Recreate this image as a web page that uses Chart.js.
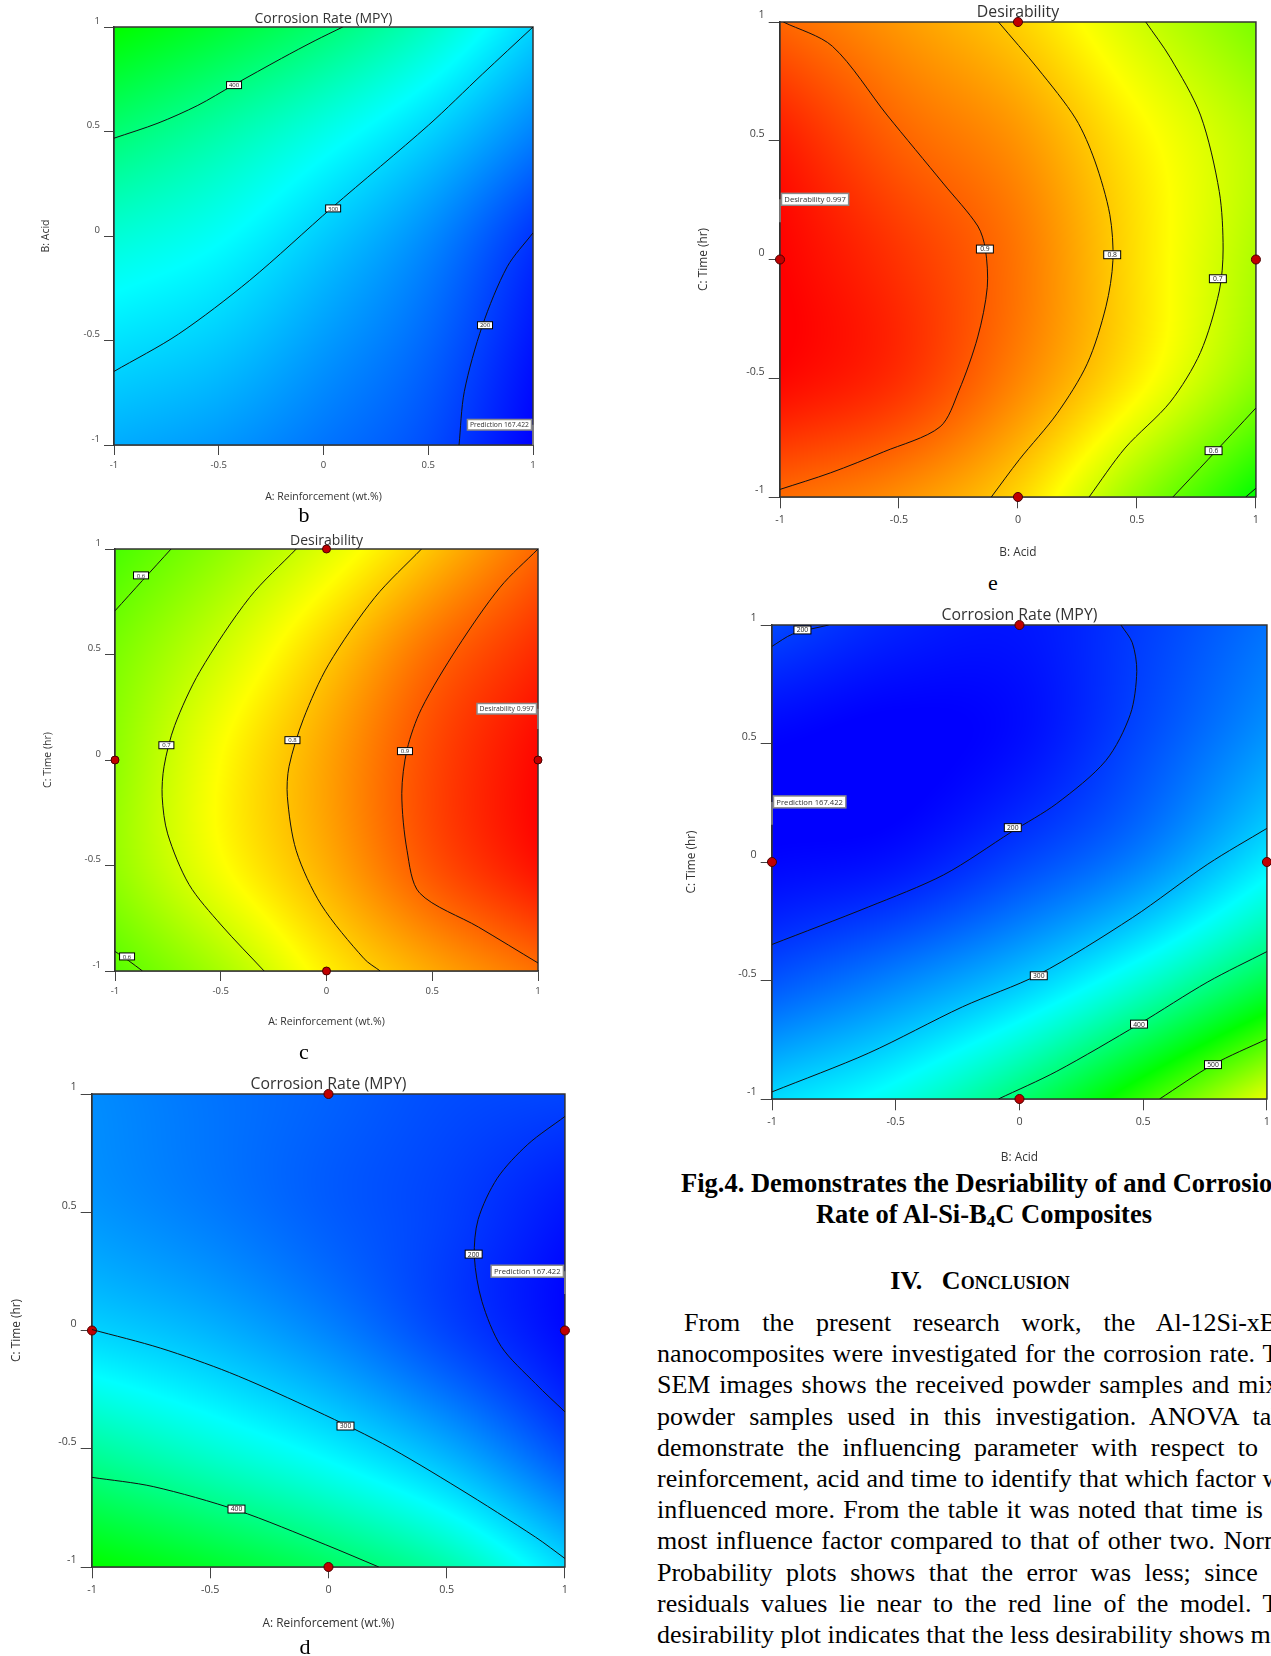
<!DOCTYPE html>
<html>
<head>
<meta charset="utf-8">
<script src="https://cdn.jsdelivr.net/npm/chart.js@4.4.1/dist/chart.umd.min.js"></script>
<style>
  html, body { margin: 0; padding: 0; background: #fff; }
  body { position: relative; width: 1271px; height: 1656px; overflow: hidden; }
  canvas.plot { position: absolute; }
  .serif { font-family: "Liberation Serif", "Times New Roman", serif; color: #000; }
  .fig { position: absolute; font-size: 22px; transform: translate(-50%, -50%); }
  .block { position: absolute; left: 657px; width: 646px; font-size: 26px; }
  .caption { left: 661px; top: 1168px; line-height: 31px; text-align: center; font-weight: bold; font-size: 26.5px; }
  .heading { top: 1265px; line-height: 31px; text-align: center; font-weight: bold; font-variant: small-caps; }
  .para { top: 1307px; }
  .pl { height: 31.2px; line-height: 31.2px; white-space: nowrap; text-align: justify; text-align-last: justify; }
  .pl.first { text-indent: 27px; }
  sub { font-size: 17px; line-height: 0; vertical-align: -4px; }
</style>
</head>
<body>
<canvas id="chartB" class="plot"></canvas>
<canvas id="chartC" class="plot"></canvas>
<canvas id="chartD" class="plot"></canvas>
<canvas id="chartE" class="plot"></canvas>
<canvas id="chartF" class="plot"></canvas>

<div class="serif fig" style="left:304px;top:515px">b</div>
<div class="serif fig" style="left:304px;top:1052px">c</div>
<div class="serif fig" style="left:305px;top:1647px">d</div>
<div class="serif fig" style="left:993px;top:583px">e</div>

<div class="serif block caption">Fig.4. Demonstrates the Desriability of and Corrosion<br>Rate of Al-Si-B<sub>4</sub>C Composites</div>
<div class="serif block heading">IV.&nbsp;&nbsp;&nbsp;Conclusion</div>
<div class="serif block para">
  <div class="pl first">From the present research work, the Al-12Si-xB<sub>4</sub>C</div>
  <div class="pl">nanocomposites were investigated for the corrosion rate. The</div>
  <div class="pl">SEM images shows the received powder samples and mixed</div>
  <div class="pl">powder samples used in this investigation. ANOVA table</div>
  <div class="pl">demonstrate the influencing parameter with respect to the</div>
  <div class="pl">reinforcement, acid and time to identify that which factor was</div>
  <div class="pl">influenced more. From the table it was noted that time is the</div>
  <div class="pl">most influence factor compared to that of other two. Normal</div>
  <div class="pl">Probability plots shows that the error was less; since the</div>
  <div class="pl">residuals values lie near to the red line of the model. The</div>
  <div class="pl">desirability plot indicates that the less desirability shows more</div>
</div>

<script>
// --- shared axis values ---
const tickValues = [-1, -0.5, 0, 0.5, 1];
const gridNodes = [-1, -0.5, 0, 0.5, 1];

// --- colour scales (blue > cyan > green > yellow > red) ---
const rateStops = [167, 327, 467, 607, 747];
const desirStops = [0, 0.25, 0.5, 0.75, 1];
const stopColors = [[0, 0, 255], [0, 255, 255], [0, 255, 0], [255, 255, 0], [255, 0, 0]];

// --- b: Corrosion Rate, A (x) vs B (y); rows B = -1..1, cols A = -1..1 ---
const bField = [
  [275, 262, 240, 215, 167],
  [310, 295, 265, 232, 180],
  [350, 330, 295, 255, 200],
  [405, 375, 340, 300, 250],
  [470, 440, 405, 360, 300]
];
const b400 = [[-1, 0.468], [-0.79, 0.54], [-0.6, 0.625], [-0.43, 0.722], [-0.2, 0.85], [-0.04, 0.935], [0.092, 1]];
const b300 = [[-1, -0.648], [-0.693, -0.47], [-0.352, -0.212], [0.041, 0.136], [0.502, 0.531], [0.758, 0.774], [1, 1]];
const b200 = [[0.647, -1], [0.672, -0.745], [0.758, -0.43], [0.877, -0.147], [1, 0.015]];
const bLabels = [['400', -0.427, 0.722], ['300', 0.046, 0.132], ['200', 0.771, -0.427]];
const bPoints = [];
const bFlag = ['Prediction 167.422', 1, -1];

// --- c: Desirability, A (x) vs C (y); rows C = -1..1 ---
const cField = [
  [0.585, 0.665, 0.765, 0.835, 0.89],
  [0.645, 0.745, 0.83, 0.92, 0.985],
  [0.64, 0.75, 0.84, 0.93, 0.995],
  [0.62, 0.705, 0.8, 0.895, 0.96],
  [0.57, 0.64, 0.72, 0.81, 0.9]
];
const c06a = [[-1, 0.707], [-0.87, 0.851], [-0.735, 1]];
const c06b = [[-1, -0.907], [-0.937, -0.95], [-0.87, -1]];
const c07 = [[-0.143, 1], [-0.363, 0.771], [-0.599, 0.419], [-0.718, 0.163], [-0.768, -0.03], [-0.777, -0.174], [-0.751, -0.35], [-0.65, -0.59], [-0.498, -0.782], [-0.295, -1]];
const c08 = [[0.449, 1], [0.229, 0.771], [0.009, 0.451], [-0.109, 0.195], [-0.177, -0.03], [-0.185, -0.174], [-0.143, -0.43], [-0.025, -0.686], [0.178, -0.942], [0.254, -1]];
const c09 = [[1, 1], [0.821, 0.819], [0.618, 0.531], [0.449, 0.243], [0.381, 0.05], [0.356, -0.158], [0.381, -0.43], [0.44, -0.63], [0.719, -0.792], [1, -0.962]];
const cLabels = [['0.6', -0.877, 0.875], ['0.6', -0.943, -0.931], ['0.7', -0.757, 0.07], ['0.8', -0.161, 0.094], ['0.9', 0.371, 0.042]];
const cPoints = [[0, 1], [-1, 0], [1, 0], [0, -1]];
const cFlag = ['Desirability 0.997', 1, 0.147];

// --- d: Corrosion Rate, A (x) vs C (y) ---
const dField = [
  [470, 445, 415, 375, 305],
  [380, 350, 318, 275, 215],
  [300, 280, 250, 210, 172],
  [262, 245, 225, 207, 180],
  [255, 240, 228, 215, 210]
];
const d200 = [[1, 0.905], [0.843, 0.787], [0.714, 0.644], [0.633, 0.47], [0.617, 0.312], [0.649, 0.123], [0.73, -0.067], [0.876, -0.225], [1, -0.344]];
const d300 = [[-1, 0.004], [-0.709, -0.075], [-0.418, -0.178], [-0.095, -0.32], [0.229, -0.478], [0.552, -0.668], [0.876, -0.874], [1, -0.964]];
const d400 = [[-1, -0.621], [-0.741, -0.66], [-0.386, -0.76], [-0.014, -0.905], [0.213, -1]];
const dLabels = [['200', 0.614, 0.323], ['300', 0.072, -0.404], ['400', -0.389, -0.755]];
const dPoints = [[0, 1], [-1, 0], [1, 0], [0, -1]];
const dFlag = ['Prediction 167.422', 1, 0.154];

// --- e: Desirability, B (x) vs C (y) ---
const eField = [
  [0.895, 0.86, 0.79, 0.645, 0.5],
  [0.995, 0.955, 0.87, 0.765, 0.64],
  [1.0, 0.95, 0.885, 0.78, 0.67],
  [0.975, 0.905, 0.855, 0.765, 0.68],
  [0.9, 0.85, 0.795, 0.705, 0.62]
];
const e09 = [[-0.986, 1], [-0.78, 0.898], [-0.55, 0.608], [-0.312, 0.318], [-0.169, 0.141], [-0.137, 0.044], [-0.129, -0.117], [-0.169, -0.326], [-0.248, -0.552], [-0.328, -0.705], [-0.565, -0.81], [-0.787, -0.898], [-1, -0.968]];
const e08 = [[-0.082, 1], [0.085, 0.802], [0.243, 0.592], [0.323, 0.415], [0.386, 0.189], [0.399, -0.004], [0.37, -0.197], [0.291, -0.439], [0.164, -0.649], [0.006, -0.842], [-0.112, -1]];
const e07 = [[0.537, 1], [0.64, 0.85], [0.767, 0.608], [0.846, 0.286], [0.862, 0.044], [0.846, -0.133], [0.767, -0.391], [0.64, -0.6], [0.45, -0.794], [0.299, -1]];
const e06 = [[0.651, -1], [0.799, -0.842], [1, -0.625]];
const e05 = [[0.957, -1], [1, -0.963]];
const eLabels = [['0.9', -0.139, 0.044], ['0.8', 0.396, 0.02], ['0.7', 0.84, -0.081], ['0.6', 0.822, -0.805]];
const ePoints = [[0, 1], [-1, 0], [1, 0], [0, -1]];
const eFlag = ['Desirability 0.997', -1, 0.157];

// --- f: Corrosion Rate, B (x) vs C (y) ---
const fField = [
  [305, 340, 405, 495, 595],
  [219, 250, 290, 350, 425],
  [170, 178, 210, 250, 315],
  [168, 163, 175, 215, 262],
  [212, 188, 180, 205, 238]
];
const f200a = [[-1, 0.91], [-0.916, 0.962], [-0.771, 1]];
const f200b = [[0.41, 1], [0.456, 0.925], [0.474, 0.804], [0.448, 0.623], [0.349, 0.428], [0.151, 0.247], [-0.032, 0.127], [-0.306, -0.054], [-0.611, -0.19], [-1, -0.348]];
const f300 = [[-1, -0.97], [-0.611, -0.807], [-0.23, -0.611], [0.075, -0.476], [0.456, -0.235], [0.761, -0.009], [1, 0.142]];
const f400 = [[-0.085, -1], [0.151, -0.883], [0.483, -0.684], [0.761, -0.506], [1, -0.378]];
const f500 = [[0.566, -1], [0.782, -0.855], [1, -0.747]];
const fLabels = [['200', -0.877, 0.979], ['200', -0.027, 0.145], ['300', 0.078, -0.48], ['400', 0.483, -0.684], ['500', 0.782, -0.855]];
const fPoints = [[0, 1], [-1, 0], [1, 0], [0, -1]];
const fFlag = ['Prediction 167.422', -1, 0.157];

const uiFont = '"Open Sans", "DejaVu Sans", sans-serif';

// --- helpers for the colour field ---
function padGrid(g) {
  const rows = g.map(r => [2 * r[0] - r[1], ...r, 2 * r[r.length - 1] - r[r.length - 2]]);
  const n = rows.length;
  const first = rows[0].map((v, i) => 2 * v - rows[1][i]);
  const last = rows[n - 1].map((v, i) => 2 * v - rows[n - 2][i]);
  return [first, ...rows, last];
}

function cr(p0, p1, p2, p3, t) {
  return p1 + 0.5 * t * (p2 - p0 + t * (2 * p0 - 5 * p1 + 4 * p2 - p3 + t * (3 * (p1 - p2) + p3 - p0)));
}

function sample(p, vx, vy) {
  const step = gridNodes[1] - gridNodes[0];
  const gx = (vx - gridNodes[0]) / step, gy = (vy - gridNodes[0]) / step;
  const ix = Math.min(gridNodes.length - 2, Math.max(0, Math.floor(gx)));
  const iy = Math.min(gridNodes.length - 2, Math.max(0, Math.floor(gy)));
  const tx = gx - ix, ty = gy - iy;
  const col = [];
  for (let r = 0; r < 4; r++) {
    const row = p[iy + r];
    col.push(cr(row[ix], row[ix + 1], row[ix + 2], row[ix + 3], tx));
  }
  return cr(col[0], col[1], col[2], col[3], ty);
}

function colourFor(v, stops) {
  if (v <= stops[0]) return stopColors[0];
  for (let i = 1; i < stops.length; i++) {
    if (v <= stops[i]) {
      const t = (v - stops[i - 1]) / (stops[i] - stops[i - 1]);
      const a = stopColors[i - 1], b = stopColors[i];
      return [a[0] + (b[0] - a[0]) * t, a[1] + (b[1] - a[1]) * t, a[2] + (b[2] - a[2]) * t];
    }
  }
  return stopColors[stopColors.length - 1];
}

function fieldPlugin(grid, stops) {
  const padded = padGrid(grid);
  return {
    id: 'field',
    beforeDatasetsDraw(chart) {
      const { ctx, chartArea: a, scales } = chart;
      const w = Math.round(a.right - a.left), h = Math.round(a.bottom - a.top);
      const off = document.createElement('canvas');
      off.width = w; off.height = h;
      const octx = off.getContext('2d');
      const img = octx.createImageData(w, h);
      for (let j = 0; j < h; j++) {
        const vy = scales.y.getValueForPixel(a.top + j + 0.5);
        for (let i = 0; i < w; i++) {
          const vx = scales.x.getValueForPixel(a.left + i + 0.5);
          const c = colourFor(sample(padded, vx, vy), stops);
          const k = (j * w + i) * 4;
          img.data[k] = c[0]; img.data[k + 1] = c[1]; img.data[k + 2] = c[2]; img.data[k + 3] = 255;
        }
      }
      octx.putImageData(img, 0, 0);
      ctx.drawImage(off, a.left, a.top, a.right - a.left, a.bottom - a.top);
      ctx.save();
      ctx.strokeStyle = '#333';
      ctx.lineWidth = 1.5;
      ctx.strokeRect(a.left, a.top, a.right - a.left, a.bottom - a.top);
      ctx.restore();
    }
  };
}

// contour value boxes and the prediction / desirability flag
function notesPlugin(labels, flag, s) {
  return {
    id: 'notes',
    afterDatasetsDraw(chart) {
      const { ctx, scales } = chart;
      ctx.save();
      ctx.textAlign = 'center';
      ctx.textBaseline = 'middle';
      ctx.font = (6 * s) + 'px ' + uiFont;
      labels.forEach(([txt, x, y]) => {
        const px = scales.x.getPixelForValue(x), py = scales.y.getPixelForValue(y);
        const bw = 15 * s, bh = 7 * s;
        ctx.fillStyle = '#fff';
        ctx.fillRect(px - bw / 2, py - bh / 2, bw, bh);
        ctx.strokeStyle = '#000';
        ctx.lineWidth = 1;
        ctx.strokeRect(px - bw / 2, py - bh / 2, bw, bh);
        ctx.fillStyle = '#222';
        ctx.fillText(txt, px, py + 0.5);
      });

      const [txt, fx, fy] = flag;
      const px = scales.x.getPixelForValue(fx), py = scales.y.getPixelForValue(fy);
      ctx.font = (6.8 * s) + 'px ' + uiFont;
      const bw = ctx.measureText(txt).width + 5 * s, bh = 10.5 * s;
      const lead = 15 * s;
      const bx = fx > 0 ? px - 1.5 - bw : px + 1.5;
      const by = py - lead - bh;
      ctx.strokeStyle = '#8a8a8a';
      ctx.lineWidth = 1.5;
      ctx.beginPath();
      ctx.moveTo(px, by + bh / 2);
      ctx.lineTo(px, py);
      ctx.stroke();
      ctx.fillStyle = '#fff';
      ctx.fillRect(bx, by, bw, bh);
      ctx.strokeRect(bx, by, bw, bh);
      ctx.fillStyle = '#333';
      ctx.fillText(txt, bx + bw / 2, by + bh / 2 + 0.5);
      ctx.restore();
    }
  };
}

function toXY(pts) { return pts.map(([x, y]) => ({ x, y })); }

function makePlot(id, geo, p) {
  const s = geo.s;
  const titleSize = 14 * s, tickSize = 9.5 * s, axisSize = 10.5 * s;
  const titleLH = titleSize * 1.2, axisLH = axisSize * 1.2;
  const left = Math.round(geo.yTitleX - axisLH / 2);
  const top = Math.floor(geo.t - titleLH - 2);
  const right = geo.r + 8;
  const bottom = Math.round(geo.xTitleY + axisLH / 2);
  const canvas = document.getElementById(id);
  canvas.style.left = left + 'px';
  canvas.style.top = top + 'px';
  canvas.width = right - left;
  canvas.height = bottom - top;
  const yW = geo.l - left, xH = bottom - geo.b;

  const datasets = p.contours.map(c => ({
    data: toXY(c),
    showLine: true,
    borderColor: '#111',
    borderWidth: 1,
    pointRadius: 0,
    tension: 0.3,
    fill: false
  }));
  datasets.push({
    data: toXY(p.points),
    pointRadius: 4 * s,
    pointBackgroundColor: '#c00000',
    pointBorderColor: '#4a0000',
    pointBorderWidth: 1,
    clip: false
  });

  const axis = (title, pos) => ({
    type: 'linear',
    position: pos,
    min: -1,
    max: 1,
    afterBuildTicks: a => { a.ticks = tickValues.map(v => ({ value: v })); },
    afterFit: a => { if (pos === 'left') a.width = yW; else a.height = xH; },
    ticks: {
      callback: v => String(v),
      color: '#444',
      font: { family: uiFont, size: tickSize },
      padding: pos === 'left' ? 4 : 5,
      labelOffset: pos === 'left' ? -6 * s : 0,
      maxRotation: 0,
      autoSkip: false
    },
    grid: { drawOnChartArea: false, drawTicks: true, tickLength: 10 * s, color: '#444', lineWidth: 1 },
    border: { display: true, color: '#333', width: 1.5 },
    title: { display: true, text: title, color: '#333', font: { family: uiFont, size: axisSize }, padding: 0 }
  });

  new Chart(canvas, {
    type: 'scatter',
    data: { datasets },
    options: {
      responsive: false,
      animation: false,
      devicePixelRatio: 1,
      events: [],
      layout: { padding: { left: 0, right: 8, top: geo.t - top - titleLH - 2, bottom: 0 } },
      plugins: {
        legend: { display: false },
        tooltip: { enabled: false },
        title: {
          display: true,
          text: p.title,
          fullSize: false,
          color: '#333',
          font: { family: uiFont, size: titleSize, weight: 'normal' },
          padding: { top: 2, bottom: 0 }
        }
      },
      scales: { x: axis(p.xTitle, 'bottom'), y: axis(p.yTitle, 'left') }
    },
    plugins: [fieldPlugin(p.field, p.stops), notesPlugin(p.labels, p.flag, s)]
  });
}

makePlot('chartB', { l: 114, t: 27, r: 533, b: 445, yTitleX: 46, xTitleY: 497, s: 1 }, {
  title: 'Corrosion Rate (MPY)', xTitle: 'A: Reinforcement (wt.%)', yTitle: 'B: Acid',
  field: bField, stops: rateStops, contours: [b400, b300, b200], labels: bLabels, points: bPoints, flag: bFlag
});
makePlot('chartC', { l: 115, t: 549, r: 538, b: 971, yTitleX: 48, xTitleY: 1022, s: 1 }, {
  title: 'Desirability', xTitle: 'A: Reinforcement (wt.%)', yTitle: 'C: Time (hr)',
  field: cField, stops: desirStops, contours: [c06a, c06b, c07, c08, c09], labels: cLabels, points: cPoints, flag: cFlag
});
makePlot('chartD', { l: 92, t: 1094, r: 565, b: 1567, yTitleX: 16, xTitleY: 1624, s: 1.13 }, {
  title: 'Corrosion Rate (MPY)', xTitle: 'A: Reinforcement (wt.%)', yTitle: 'C: Time (hr)',
  field: dField, stops: rateStops, contours: [d200, d300, d400], labels: dLabels, points: dPoints, flag: dFlag
});
makePlot('chartE', { l: 780, t: 22, r: 1256, b: 497, yTitleX: 703, xTitleY: 553, s: 1.13 }, {
  title: 'Desirability', xTitle: 'B: Acid', yTitle: 'C: Time (hr)',
  field: eField, stops: desirStops, contours: [e09, e08, e07, e06, e05], labels: eLabels, points: ePoints, flag: eFlag
});
makePlot('chartF', { l: 772, t: 625, r: 1267, b: 1099, yTitleX: 691, xTitleY: 1158, s: 1.13 }, {
  title: 'Corrosion Rate (MPY)', xTitle: 'B: Acid', yTitle: 'C: Time (hr)',
  field: fField, stops: rateStops, contours: [f200a, f200b, f300, f400, f500], labels: fLabels, points: fPoints, flag: fFlag
});
</script>
</body>
</html>
